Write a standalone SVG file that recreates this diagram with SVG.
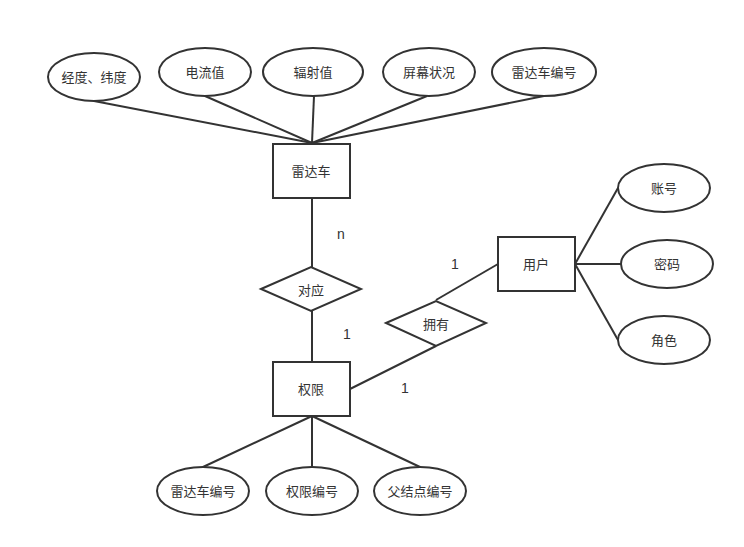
<svg xmlns="http://www.w3.org/2000/svg" width="744" height="547" viewBox="0 0 744 547">
<style>
.s{fill:#fff;stroke:#333;stroke-width:2}
.c line{stroke:#333;stroke-width:2}
text{font-family:"Noto Sans CJK SC","Liberation Sans",sans-serif;font-size:13px;fill:#333;text-anchor:middle;dominant-baseline:central}
.n{font-family:"Liberation Sans",sans-serif;font-size:14px}
</style>
<rect width="744" height="547" fill="#fff"/>
<g class="c" id="connectors">
<line x1="94" y1="101" x2="312" y2="143"/>
<line x1="205" y1="96" x2="312" y2="143"/>
<line x1="314" y1="96" x2="312" y2="143"/>
<line x1="427" y1="96" x2="312" y2="143"/>
<line x1="544" y1="96" x2="312" y2="143"/>
<line x1="312" y1="198" x2="312" y2="267"/>
<line x1="312" y1="311" x2="312" y2="362"/>
<line x1="350" y1="389" x2="436" y2="346"/>
<line x1="436" y1="300" x2="498" y2="264"/>
<line x1="575" y1="264" x2="618" y2="188"/>
<line x1="575" y1="264" x2="621" y2="264"/>
<line x1="575" y1="264" x2="618" y2="340"/>
<line x1="312" y1="416" x2="203" y2="467"/>
<line x1="312" y1="416" x2="312" y2="467"/>
<line x1="312" y1="416" x2="420" y2="467"/>
</g>
<g id="jwd"><ellipse class="s" cx="94" cy="77" rx="46" ry="24"/><text x="94" y="76">经度、纬度</text></g>
<g id="dlz"><ellipse class="s" cx="205" cy="72" rx="46" ry="24"/><text x="205" y="71">电流值</text></g>
<g id="fsz"><ellipse class="s" cx="313" cy="72" rx="50" ry="24"/><text x="313" y="71">辐射值</text></g>
<g id="pmzk"><ellipse class="s" cx="429" cy="72" rx="46" ry="24"/><text x="429" y="71">屏幕状况</text></g>
<g id="ldcbh1"><ellipse class="s" cx="544" cy="72" rx="52" ry="24"/><text x="544" y="71">雷达车编号</text></g>
<g id="ldc"><rect class="s" x="273" y="144" width="77" height="54"/><text x="311" y="170">雷达车</text></g>
<g id="dy"><polygon class="s" points="261,289 311,267 361,289 311,311"/><text x="311" y="289">对应</text></g>
<g id="qx"><rect class="s" x="273" y="362" width="77" height="54"/><text x="311" y="388">权限</text></g>
<g id="yy"><polygon class="s" points="386,323 436,301 486,323 436,346"/><text x="436" y="323">拥有</text></g>
<g id="yh"><rect class="s" x="498" y="237" width="77" height="54"/><text x="536" y="263">用户</text></g>
<g id="zh"><ellipse class="s" cx="664" cy="188" rx="46" ry="24"/><text x="664" y="187">账号</text></g>
<g id="mm"><ellipse class="s" cx="667" cy="264" rx="46" ry="24"/><text x="667" y="263">密码</text></g>
<g id="js"><ellipse class="s" cx="664" cy="340" rx="46" ry="24"/><text x="664" y="339">角色</text></g>
<g id="ldcbh2"><ellipse class="s" cx="203" cy="491" rx="46" ry="24"/><text x="203" y="490">雷达车编号</text></g>
<g id="qxbh"><ellipse class="s" cx="312" cy="491" rx="46" ry="24"/><text x="312" y="490">权限编号</text></g>
<g id="fjdbh"><ellipse class="s" cx="420" cy="491" rx="46" ry="24"/><text x="420" y="490">父结点编号</text></g>
<g id="labels">
<text class="n" x="341" y="234">n</text>
<text class="n" x="347" y="334">1</text>
<text class="n" x="405" y="388">1</text>
<text class="n" x="455" y="264">1</text>
</g>
</svg>
